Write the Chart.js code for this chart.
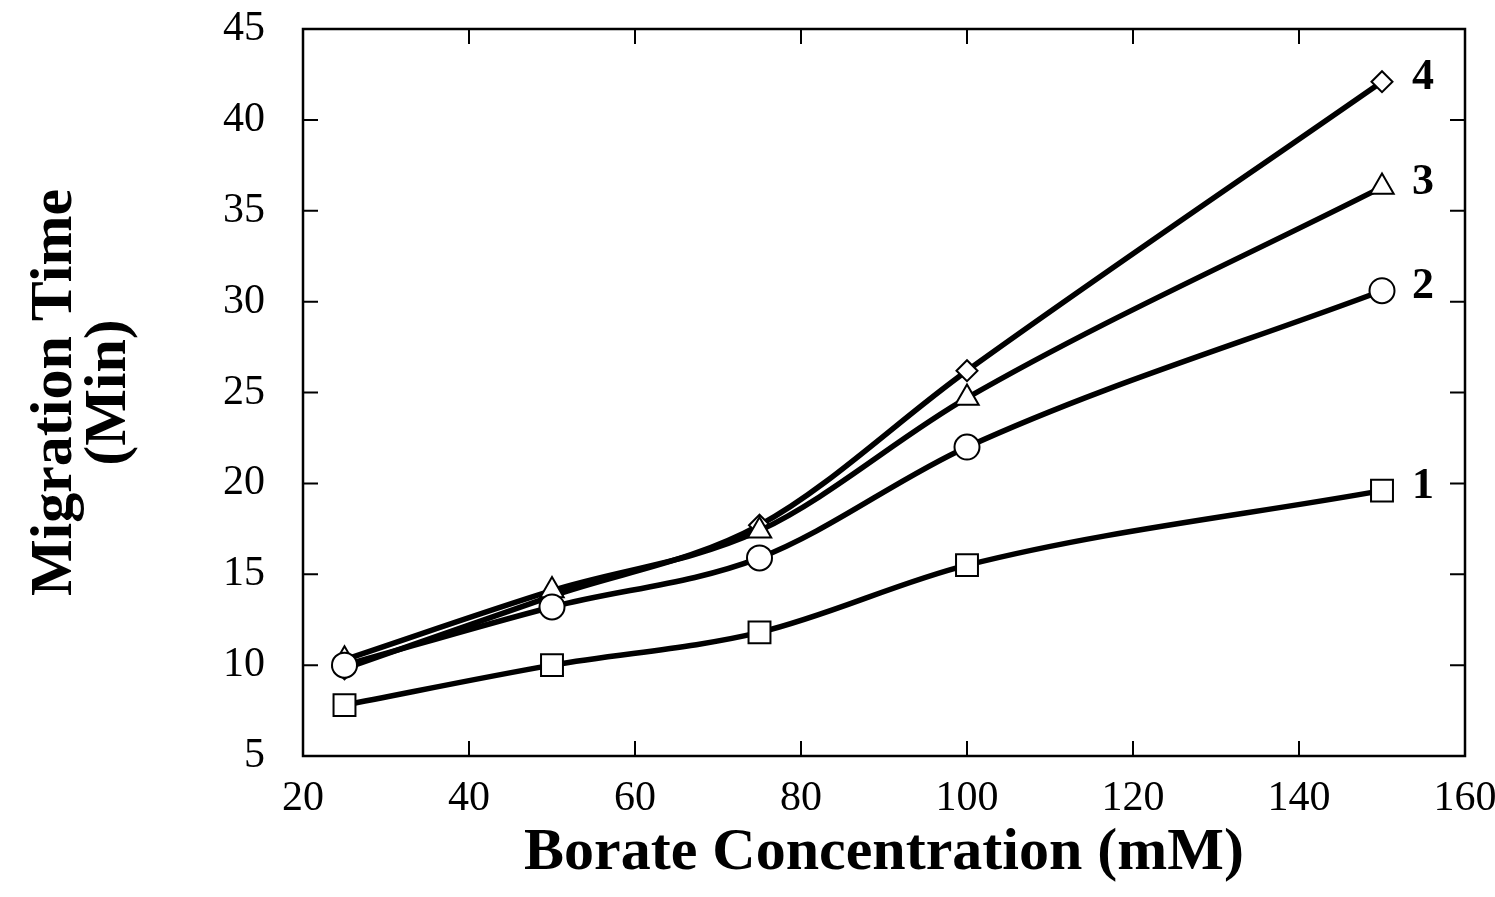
<!DOCTYPE html>
<html>
<head>
<meta charset="utf-8">
<script src="https://cdn.jsdelivr.net/npm/chart.js@4/dist/chart.umd.min.js"></script>
<style>
html,body{margin:0;padding:0;background:#fff;}
#wrap{width:1495px;height:897px;position:relative;}
</style>
</head>
<body>
<div id="wrap"><canvas id="c" width="1495" height="897"></canvas></div>
<script>
// Data
const borate = [25, 50, 75, 100, 150];
const series1 = [7.8, 10.0, 11.8, 15.5, 19.6];
const series2 = [10.0, 13.2, 15.9, 22.0, 30.6];
const series3 = [10.3, 14.1, 17.4, 24.7, 36.3];
const series4 = [9.8, 13.8, 17.7, 26.2, 42.1];
const seriesLabels = ['1', '2', '3', '4'];
const xTicks = [20, 40, 60, 80, 100, 120, 140, 160];
const yTicks = [5, 10, 15, 20, 25, 30, 35, 40, 45];

const SERIF = "'Liberation Serif', 'DejaVu Serif', serif";
const toPts = arr => arr.map((v, i) => ({x: borate[i], y: v}));

function ds(label, values, style, radius) {
  return {
    label: label,
    data: toPts(values),
    borderColor: '#000',
    borderWidth: 5.5,
    pointStyle: style,
    pointRadius: radius,
    pointHoverRadius: radius,
    pointBackgroundColor: '#fff',
    pointBorderColor: '#000',
    pointBorderWidth: 2,
    cubicInterpolationMode: 'monotone',
    fill: false
  };
}

const frame = {
  id: 'frame',
  afterDatasetsDraw(chart) {
    const {ctx, chartArea: a, scales: {x, y}} = chart;
    ctx.save();
    ctx.strokeStyle = '#000';
    ctx.lineWidth = 2.5;
    ctx.strokeRect(a.left, a.top, a.right - a.left, a.bottom - a.top);
    ctx.lineWidth = 2;
    const L = 15;
    ctx.beginPath();
    xTicks.forEach(v => {
      const px = x.getPixelForValue(v);
      ctx.moveTo(px, a.bottom); ctx.lineTo(px, a.bottom - L);
      ctx.moveTo(px, a.top); ctx.lineTo(px, a.top + L);
    });
    yTicks.forEach(v => {
      const py = y.getPixelForValue(v);
      ctx.moveTo(a.left, py); ctx.lineTo(a.left + L, py);
      ctx.moveTo(a.right, py); ctx.lineTo(a.right - L, py);
    });
    ctx.stroke();
    // series labels at line ends
    ctx.fillStyle = '#000';
    ctx.font = "bold 44px " + SERIF;
    ctx.textAlign = 'left';
    ctx.textBaseline = 'middle';
    chart.data.datasets.forEach((d, i) => {
      const meta = chart.getDatasetMeta(i);
      const p = meta.data[meta.data.length - 1];
      ctx.fillText(seriesLabels[i], p.x + 30, p.y - 4);
    });
    ctx.restore();
  }
};

function zeroPad(s) { s.paddingTop = 0; s.paddingBottom = 0; s.paddingLeft = 0; s.paddingRight = 0; }

new Chart(document.getElementById('c'), {
  type: 'line',
  data: {
    datasets: [
      ds('1', series1, 'rect', 15.5),
      ds('2', series2, 'circle', 12.5),
      ds('3', series3, 'triangle', 13.5),
      ds('4', series4, 'rectRot', 10.5)
    ]
  },
  options: {
    responsive: false,
    animation: false,
    layout: {autoPadding: false, padding: {left: 0, right: 30, top: 29, bottom: 0}},
    plugins: {legend: {display: false}, tooltip: {enabled: false}},
    scales: {
      x: {
        type: 'linear', min: 20, max: 160,
        afterBuildTicks: s => { s.ticks = xTicks.map(v => ({value: v})); },
        afterFit: s => { s.height = 141; zeroPad(s); },
        grid: {display: false},
        border: {display: false},
        ticks: {color: '#000', font: {family: SERIF, size: 42}, padding: 10, maxRotation: 0},
        title: {display: true, text: 'Borate Concentration (mM)', color: '#000',
                font: {family: SERIF, size: 60, weight: 'bold'}, padding: {top: 0, bottom: 8}}
      },
      y: {
        type: 'linear', min: 5, max: 45,
        afterBuildTicks: s => { s.ticks = yTicks.map(v => ({value: v})); },
        afterFit: s => { s.width = 303; zeroPad(s); },
        grid: {display: false},
        border: {display: false},
        ticks: {color: '#000', font: {family: SERIF, size: 42}, padding: 30},
        title: {display: true, text: ['Migration Time', '(Min)'], color: '#000',
                font: {family: SERIF, size: 60, weight: 'bold', lineHeight: 0.9}, padding: {top: 28, bottom: 0}}
      }
    }
  },
  plugins: [frame]
});
</script>
</body>
</html>
